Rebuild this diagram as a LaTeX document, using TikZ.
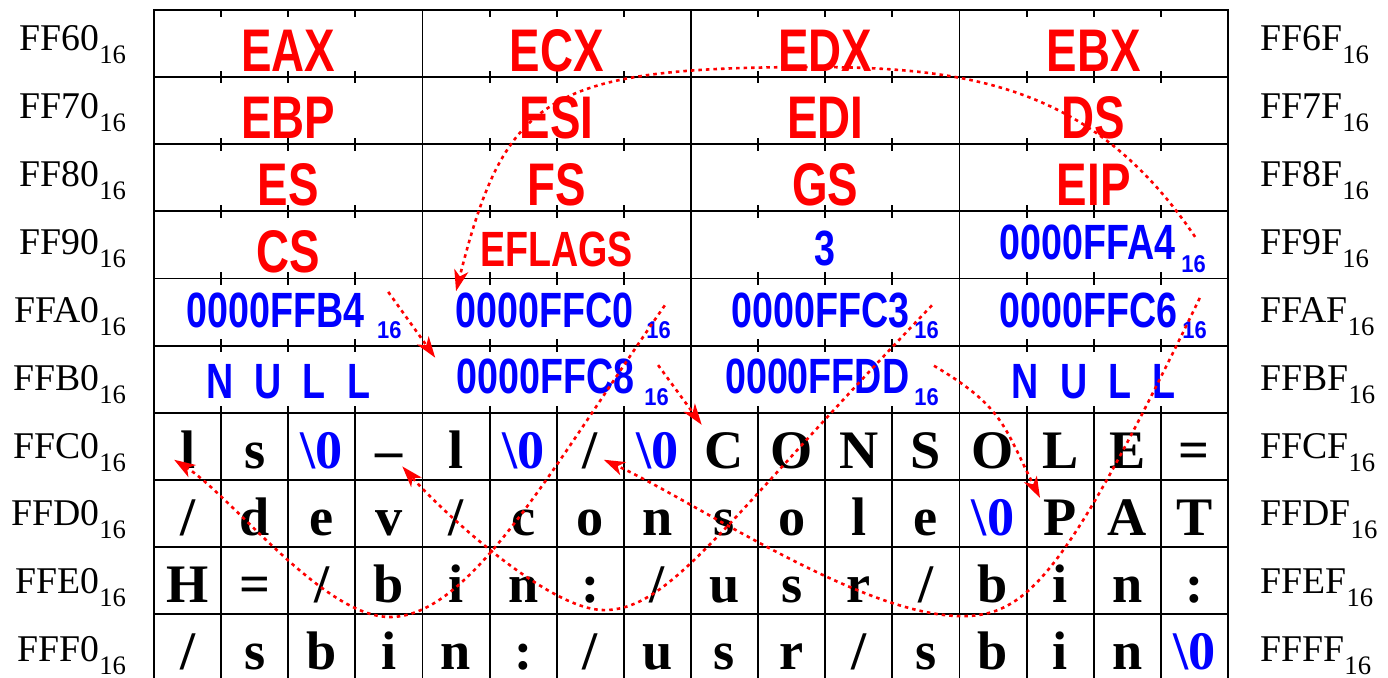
\documentclass[tikz,border=0pt]{standalone}
\usepackage{fontspec}
\setmainfont{Liberation Serif}
\newfontfamily\regfont{Liberation Sans}[FakeStretch=0.76]
\newfontfamily\subfont{Liberation Sans}[FakeStretch=0.9]
\usetikzlibrary{arrows.meta}
\definecolor{regred}{RGB}{255, 0, 0}
\definecolor{ptrblue}{RGB}{0, 0, 255}
\newcommand{\addr}[1]{{\fontsize{16}{16}\selectfont #1}\raisebox{-5.5pt}{\fontsize{11.3}{11.3}\selectfont 16}}
\newcommand{\strnul}{\textcolor{ptrblue}{\textbackslash 0}}

\begin{document}
\begin{tikzpicture}[x=1cm, y=1cm,
    grid/.style={line width=0.8pt, black, line cap=rect},
    addrl/.style={anchor=base east, inner sep=0pt},
    addrr/.style={anchor=base west, inner sep=0pt},
    regname/.style={anchor=base, inner sep=0pt, text=regred, font=\regfont\bfseries\fontsize{25.5}{25.5}\selectfont},
    regsmall/.style={anchor=base, inner sep=0pt, text=regred, font=\regfont\bfseries\fontsize{21}{21}\selectfont},
    ptrval/.style={anchor=base west, inner sep=0pt, text=ptrblue, font=\regfont\bfseries\fontsize{21}{21}\selectfont},
    hexsub/.style={anchor=base west, inner sep=0pt, text=ptrblue, font=\subfont\bfseries\fontsize{10.3}{10.3}\selectfont},
    bytechar/.style={anchor=base, inner sep=0pt, font=\bfseries\fontsize{23}{23}\selectfont},
    ptr/.style={regred, line width=1.1pt, dash pattern=on 1.5pt off 1.7pt, -{Stealth[length=9pt, width=6pt, inset=2.5pt]}}]
    \useasboundingbox (-2.294,0.149) rectangle (18.384,-9.937);
    \clip (-2.294,0.149) rectangle (18.384,-9.937);

    % Memory grid
    \foreach \y in {0,...,10} \draw[grid] (0,-\y) -- (16,-\y);
    \foreach \x in {0,4,...,16} \draw[grid] (\x,0) -- (\x,-10);
    \foreach \x in {1,...,15} \draw[grid] (\x,-6) -- (\x,-10);
    % Byte ticks in the word rows
    \foreach \x in {1,2,3,5,6,7,9,10,11,13,14,15} {
        \draw[grid] (\x,0) -- (\x,-0.09);
        \foreach \y in {1,...,6} \draw[grid] (\x,-\y+0.08) -- (\x,-\y-0.08);
    }

    % Addresses
    \foreach \h [count=\i from 0] in {6,7,8,9,A,B,C,D,E,F} {
        \node[addrl] (addrL\h) at (-0.41, {-0.603-1.012*\i}) {\addr{FF\h0}};
        \node[addrr] (addrR\h) at (16.477, {-0.603-1.012*\i}) {\addr{FF\h F}};
    }

    % Saved registers
    \foreach \name/\r/\g in {EAX/0/0, ECX/0/1, EDX/0/2, EBX/0/3, EBP/1/0, ESI/1/1, EDI/1/2, DS/1/3,
                             ES/2/0, FS/2/1, GS/2/2, EIP/2/3, CS/3/0}
        \node[regname] (reg\name) at ({4*\g+2}, {-\r-0.91}) {\name};
    \node[regsmall] (regEFLAGS) at (6,-3.814) {EFLAGS};
    \node[regsmall, text=ptrblue] (argc) at (10,-3.809) {3};

    % Pointer values
    \node[ptrval] (pA4) at (12.589,-3.724) {0000FFA4};
    \node[hexsub] (sA4) at (15.30,-3.914) {16};
    \node[ptrval] (pB4) at (0.477,-4.723) {0000FFB4};
    \node[hexsub] (sB4) at (3.318,-4.901) {16};
    \node[ptrval] (pC0) at (4.484,-4.723) {0000FFC0};
    \node[hexsub] (sC0) at (7.33,-4.901) {16};
    \node[ptrval] (pC3) at (8.596,-4.723) {0000FFC3};
    \node[hexsub] (sC3) at (11.322,-4.901) {16};
    \node[ptrval] (pC6) at (12.589,-4.723) {0000FFC6};
    \node[hexsub] (sC6) at (15.315,-4.901) {16};
    \node[ptrval, anchor=base] (nullA) at (2,-5.79) {N\hspace{9pt}U\hspace{9pt}L\hspace{9pt}L};
    \node[ptrval] (pC8) at (4.499,-5.706) {0000FFC8};
    \node[hexsub] (sC8) at (7.30,-5.895) {16};
    \node[ptrval] (pDD) at (8.502,-5.706) {0000FFDD};
    \node[hexsub] (sDD) at (11.322,-5.895) {16};
    \node[ptrval, anchor=base] (nullE) at (14,-5.79) {N\hspace{9pt}U\hspace{9pt}L\hspace{9pt}L};

    % Strings
    \foreach \ch [count=\i from 0] in {l,s,\strnul,–,l,\strnul,/,\strnul,C,O,N,S,O,L,E,=}
        \node[bytechar] (mC\i) at (\i+0.5,-6.825) {\ch};
    \foreach \ch [count=\i from 0] in {/,d,e,v,/,c,o,n,s,o,l,e,\strnul,P,A,T}
        \node[bytechar] (mD\i) at (\i+0.5,-7.825) {\ch};
    \foreach \ch [count=\i from 0] in {H,=,/,b,i,n,:,/,u,s,r,/,b,i,n,:}
        \node[bytechar] (mE\i) at (\i+0.5,-8.825) {\ch};
    \foreach \ch [count=\i from 0] in {/,s,b,i,n,:,/,u,s,r,/,s,b,i,n,\strnul}
        \node[bytechar] (mF\i) at (\i+0.5,-9.825) {\ch};

    % Pointer tails and heads
    \coordinate (tailA4) at (15.51,-3.38);  \coordinate (headA4) at (4.50,-4.19);
    \coordinate (tailB4) at (3.49,-4.20);   \coordinate (headB4) at (4.19,-5.18);
    \coordinate (tailC0) at (7.61,-4.40);   \coordinate (headC0) at (0.30,-6.70);
    \coordinate (tailC3) at (11.59,-4.40);  \coordinate (headC3) at (3.70,-6.80);
    \coordinate (tailC6) at (15.58,-4.29);  \coordinate (headC6) at (6.70,-6.70);
    \coordinate (tailC8) at (7.51,-5.29);   \coordinate (headC8) at (8.16,-6.18);
    \coordinate (tailDD) at (11.62,-5.30);  \coordinate (headDD) at (13.20,-7.27);

    % Pointers
    \draw[ptr] (tailA4) .. controls (14.05,-1.22) and (12.3,-0.85) .. (9.85,-0.85)
                        .. controls (5.85,-0.85) and (5.235,-1.28) .. (headA4);
    \draw[ptr] (tailB4) -- (headB4);
    \draw[ptr] (tailC0) .. controls (5.903,-6.855) and (4.716,-9.043) .. (3.516,-9.043)
                        .. controls (2.516,-9.043) and (1.148,-7.234) .. (headC0);
    \draw[ptr] (tailC3) .. controls (8.485,-7.635) and (7.704,-8.94) .. (6.704,-8.94)
                        .. controls (5.904,-8.94) and (4.367,-7.551) .. (headC3);
    \draw[ptr] (tailC6) .. controls (13.617,-8.34) and (13.04,-9.03) .. (12.04,-9.03)
                        .. controls (10.54,-9.03) and (8.069,-7.325) .. (headC6);
    \draw[ptr] (tailC8) -- (headC8);
    \draw[ptr] (tailDD) .. controls (12.65,-5.91) and (12.66,-6.197) .. (headDD);
\end{tikzpicture}
\end{document}
